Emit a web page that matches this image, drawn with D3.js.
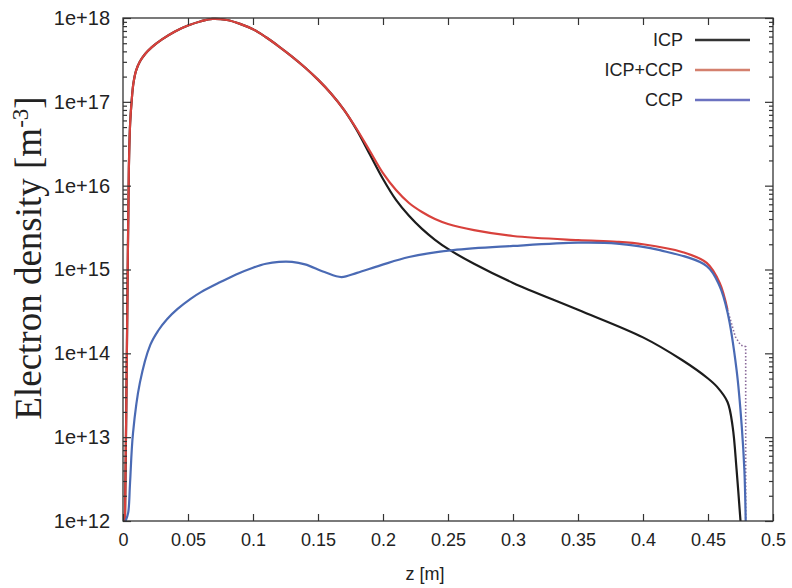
<!DOCTYPE html>
<html>
<head>
<meta charset="utf-8">
<script src="https://cdn.jsdelivr.net/npm/d3@7"></script>
<style>
  html, body { margin: 0; padding: 0; background: #fff; }
  svg { display: block; }
</style>
</head>
<body>
<svg id="chart" width="792" height="588"></svg>
<script>
// ---------- data ----------
const xTickValues = [0, 0.05, 0.1, 0.15, 0.2, 0.25, 0.3, 0.35, 0.4, 0.45, 0.5];
const xTickLabels = ["0", "0.05", "0.1", "0.15", "0.2", "0.25", "0.3", "0.35", "0.4", "0.45", "0.5"];
const yTickValues = [1e12, 1e13, 1e14, 1e15, 1e16, 1e17, 1e18];
const yTickLabels = ["1e+12", "1e+13", "1e+14", "1e+15", "1e+16", "1e+17", "1e+18"];
const seriesNames = ["ICP", "ICP+CCP", "CCP"];

// ICP (black)
const zICP = [0.0015, 0.0025, 0.0035, 0.0045, 0.0055, 0.0067, 0.008, 0.01, 0.013, 0.017, 0.022, 0.03, 0.04, 0.05, 0.06, 0.069, 0.08, 0.09, 0.1, 0.11, 0.12, 0.13, 0.14, 0.15, 0.16, 0.17, 0.18, 0.19, 0.2, 0.21, 0.22, 0.23, 0.24, 0.25, 0.27, 0.3, 0.35, 0.4, 0.43, 0.45, 0.457, 0.465, 0.469, 0.472, 0.475];
const neICP = [1e12, 2.0e13, 6.3e14, 1.58e16, 5.6e16, 1.05e17, 1.66e17, 2.34e17, 3.02e17, 3.72e17, 4.47e17, 5.56e17, 6.92e17, 8.13e17, 9.16e17, 9.77e17, 9.46e17, 8.51e17, 7.33e17, 5.89e17, 4.57e17, 3.47e17, 2.57e17, 1.84e17, 1.26e17, 8.04e16, 4.57e16, 2.34e16, 1.2e16, 6.76e15, 4.37e15, 3.05e15, 2.26e15, 1.76e15, 1.17e15, 6.92e14, 3.31e14, 1.55e14, 8.32e13, 5.01e13, 3.98e13, 2.63e13, 1.32e13, 4.07e12, 1e12];

// ICP+CCP (red) - solid part
const zMix = [0.0015, 0.0025, 0.0035, 0.0045, 0.0055, 0.0067, 0.008, 0.01, 0.013, 0.017, 0.022, 0.03, 0.04, 0.05, 0.06, 0.069, 0.08, 0.09, 0.1, 0.11, 0.12, 0.13, 0.14, 0.15, 0.16, 0.17, 0.18, 0.19, 0.2, 0.21, 0.22, 0.23, 0.24, 0.25, 0.27, 0.3, 0.35, 0.38, 0.4, 0.43, 0.449, 0.459, 0.465];
const neMix = [1e12, 2.0e13, 6.3e14, 1.58e16, 5.6e16, 1.05e17, 1.66e17, 2.34e17, 3.02e17, 3.72e17, 4.47e17, 5.56e17, 6.92e17, 8.13e17, 9.16e17, 9.77e17, 9.46e17, 8.51e17, 7.33e17, 5.89e17, 4.57e17, 3.47e17, 2.57e17, 1.84e17, 1.26e17, 8.04e16, 4.68e16, 2.57e16, 1.41e16, 8.87e15, 6.21e15, 4.85e15, 4.0e15, 3.49e15, 2.95e15, 2.51e15, 2.24e15, 2.14e15, 2.0e15, 1.62e15, 1.2e15, 6.92e14, 3.31e14];
// ICP+CCP dotted tail at the wall
const zMixTail = [0.465, 0.471, 0.475, 0.479, 0.479, 0.479];
const neMixTail = [3.31e14, 1.58e14, 1.26e14, 1.2e14, 1.26e13, 1e12];

// CCP (blue)
const zCCP = [0.002, 0.004, 0.0054, 0.0077, 0.013, 0.021, 0.027, 0.034, 0.042, 0.052, 0.06, 0.075, 0.087, 0.1, 0.11, 0.12, 0.13, 0.14, 0.155, 0.168, 0.18, 0.198, 0.22, 0.254, 0.3, 0.35, 0.38, 0.413, 0.449, 0.459, 0.465, 0.472, 0.476, 0.478, 0.479];
const neCCP = [1e12, 1.26e12, 2.82e12, 1.12e13, 4.47e13, 1.26e14, 1.86e14, 2.57e14, 3.39e14, 4.47e14, 5.37e14, 7.08e14, 8.71e14, 1.05e15, 1.17e15, 1.23e15, 1.23e15, 1.15e15, 9.33e14, 8.13e14, 9.12e14, 1.12e15, 1.41e15, 1.70e15, 1.91e15, 2.09e15, 2.04e15, 1.70e15, 1.10e15, 6.31e14, 3.09e14, 6.31e13, 1.32e13, 3.98e12, 1e12];

// ---------- layout ----------
const svg = d3.select("#chart");
const pL = 123, pR = 773, pT = 18, pB = 521;
const FONT = "'Liberation Sans', Arial, Helvetica, sans-serif";
const AXIS = "#333";

const x = d3.scaleLinear().domain([0, 0.5]).range([pL, pR]);
const y = d3.scaleLog().domain([1e12, 1e18]).range([pB, pT]);

const zip = (a, b) => a.map((v, i) => [v, b[i]]);
const line = d3.line().x(d => x(d[0])).y(d => y(d[1])).curve(d3.curveCatmullRom.alpha(0.5));
const lineLin = d3.line().x(d => x(d[0])).y(d => y(d[1])).curve(d3.curveLinear);

svg.append("clipPath").attr("id", "clip")
  .append("rect").attr("x", pL).attr("y", pT - 1).attr("width", pR - pL).attr("height", pB - pT + 1);

const plot = svg.append("g").attr("clip-path", "url(#clip)");

const colICP = "#1c1c1c", colMix = "#d8413c", colCCP = "#4a6ab4";

plot.append("path").datum(zip(zMixTail, neMixTail)).attr("d", lineLin)
  .attr("fill", "none").attr("stroke", "#8a6a9a").attr("stroke-width", 1.6)
  .attr("stroke-dasharray", "1.5,2");
plot.append("path").datum(zip(zICP, neICP)).attr("d", line)
  .attr("fill", "none").attr("stroke", colICP).attr("stroke-width", 2.2);
plot.append("path").datum(zip(zMix, neMix)).attr("d", line)
  .attr("fill", "none").attr("stroke", colMix).attr("stroke-width", 2.2);
plot.append("path").datum(zip(zCCP, neCCP)).attr("d", line)
  .attr("fill", "none").attr("stroke", colCCP).attr("stroke-width", 2.2);

// ---------- axes ----------
function styleAxis(g) {
  g.selectAll(".domain").remove();
  g.selectAll("line").attr("stroke", AXIS).attr("stroke-width", 1.2);
  g.selectAll("text").attr("fill", "#222").style("font-family", FONT);
}

svg.append("g").attr("transform", `translate(0,${pB})`)
  .call(d3.axisBottom(x).tickValues(xTickValues).tickFormat((d, i) => xTickLabels[i])
    .tickSizeInner(-7).tickSizeOuter(0).tickPadding(12))
  .call(styleAxis)
  .selectAll("text").style("font-size", "18px");

svg.append("g").attr("transform", `translate(0,${pT})`)
  .call(d3.axisTop(x).tickValues(xTickValues).tickFormat("")
    .tickSizeInner(-7).tickSizeOuter(0))
  .call(styleAxis);

svg.append("g").attr("transform", `translate(${pL},0)`)
  .call(d3.axisLeft(y).tickValues(yTickValues).tickFormat((d, i) => yTickLabels[i])
    .tickSizeInner(-8).tickSizeOuter(0).tickPadding(13))
  .call(styleAxis)
  .selectAll("text").style("font-size", "20px");

svg.append("g").attr("transform", `translate(${pR},0)`)
  .call(d3.axisRight(y).tickValues(yTickValues).tickFormat("")
    .tickSizeInner(-8).tickSizeOuter(0))
  .call(styleAxis);

// minor log ticks
const minor = y.ticks().filter(v => !yTickValues.some(t => Math.abs(t - v) / t < 1e-9));
svg.append("g").attr("transform", `translate(${pL},0)`)
  .call(d3.axisLeft(y).tickValues(minor).tickFormat("").tickSizeInner(-4).tickSizeOuter(0))
  .call(styleAxis);
svg.append("g").attr("transform", `translate(${pR},0)`)
  .call(d3.axisRight(y).tickValues(minor).tickFormat("").tickSizeInner(-4).tickSizeOuter(0))
  .call(styleAxis);

// frame
svg.append("rect").attr("x", pL).attr("y", pT).attr("width", pR - pL).attr("height", pB - pT)
  .attr("fill", "none").attr("stroke", AXIS).attr("stroke-width", 1.3);

// ---------- labels ----------
svg.append("text").attr("x", 425).attr("y", 580).attr("text-anchor", "middle")
  .style("font-family", FONT).style("font-size", "18px").attr("fill", "#222").text("z [m]");

const yl = svg.append("text")
  .attr("transform", "translate(41,258) rotate(-90)")
  .attr("text-anchor", "middle")
  .style("font-family", "'Liberation Serif', 'Times New Roman', serif")
  .style("font-size", "37px").attr("fill", "#222");
yl.append("tspan").text("Electron density [m");
yl.append("tspan").attr("dy", "-13").style("font-size", "23px").text("-3");
yl.append("tspan").attr("dy", "13").text("]");

// ---------- legend ----------
const legendColors = ["#333333", "#d4806e", "#6b72c0"];
const leg = svg.append("g");
seriesNames.forEach((name, i) => {
  const ly = 40 + i * 30;
  leg.append("text").attr("x", 683).attr("y", ly).attr("dy", "0.35em").attr("text-anchor", "end")
    .style("font-family", FONT).style("font-size", "18px").attr("fill", "#222").text(name);
  leg.append("line").attr("x1", 695).attr("x2", 750).attr("y1", ly).attr("y2", ly)
    .attr("stroke", legendColors[i]).attr("stroke-width", 2.4);
});
</script>
</body>
</html>
